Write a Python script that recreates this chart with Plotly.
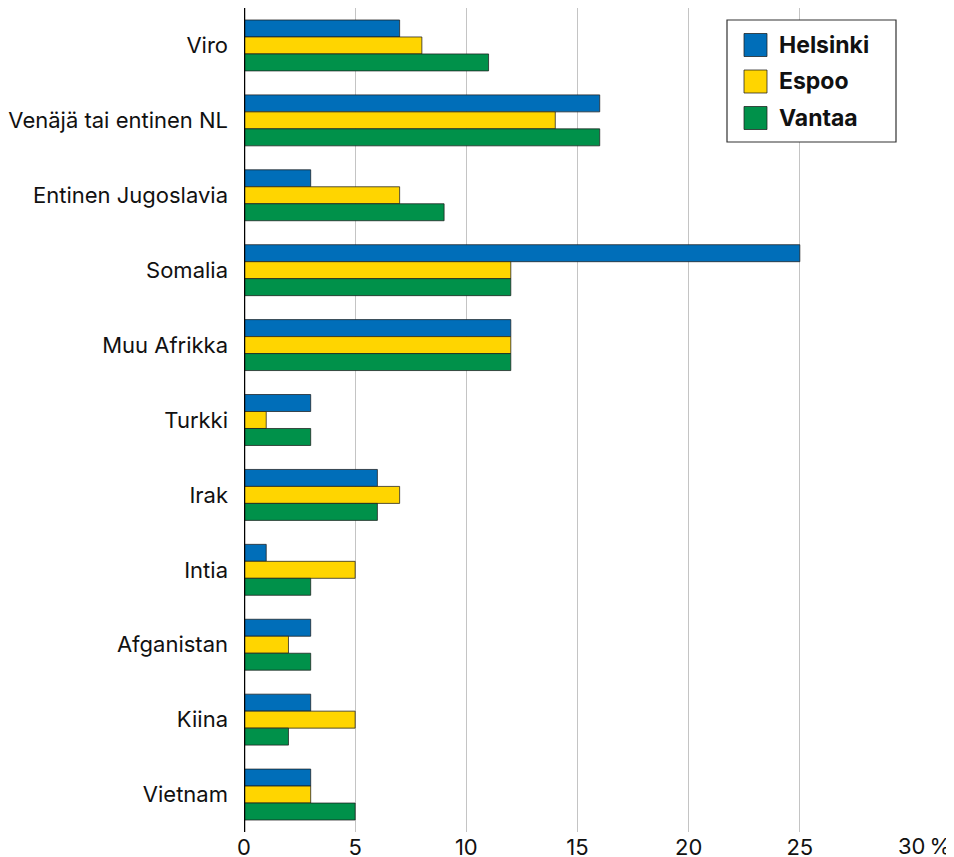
import plotly.graph_objects as go

categories = ["Viro", "Venäjä tai entinen NL", "Entinen Jugoslavia", "Somalia",
              "Muu Afrikka", "Turkki", "Irak", "Intia", "Afganistan", "Kiina", "Vietnam"]
helsinki = [7, 16, 3, 25, 12, 3, 6, 1, 3, 3, 3]
espoo = [8, 14, 7, 12, 12, 1, 7, 5, 2, 5, 3]
vantaa = [11, 16, 9, 12, 12, 3, 6, 3, 3, 2, 5]
series_names = ["Helsinki", "Espoo", "Vantaa"]
colors = ["#006EB9", "#FFD500", "#00914A"]
tick_vals = [0, 5, 10, 15, 20, 25, 30]

FONT = "Inter"
OFF = 8  # page body margin
W, H = 954 - OFF, 857 - OFF
L, R, T, B = 244 - OFF, 954 - 911, 0, 857 - 832
PW, PH = W - L - R, H - T - B


def px(x):
    return (x - OFF - L) / PW


def py(y):
    return 1 - (y - OFF - T) / PH


fig = go.Figure()
for name, vals, col in zip(series_names, [helsinki, espoo, vantaa], colors):
    fig.add_trace(go.Bar(y=categories, x=vals, name=name, orientation="h",
                         marker=dict(color=col, line=dict(color="rgba(30,30,30,0.75)", width=1)),
                         showlegend=False))

fig.update_layout(
    width=W, height=H,
    margin=dict(l=L, r=R, t=T, b=B, autoexpand=False),
    plot_bgcolor="white", paper_bgcolor="white",
    barmode="group", bargap=0.32, bargroupgap=0,
    font=dict(family=FONT, size=22, color="#111"),
    xaxis=dict(range=[0, 30], tickvals=tick_vals,
               ticktext=[str(v) if v != 30 else "" for v in tick_vals],
               showgrid=True, gridcolor="#c4c4c4", gridwidth=1,
               zeroline=False, showline=False, ticks="",
               tickfont=dict(size=22), ticklabelstandoff=0),
    yaxis=dict(autorange="reversed", showgrid=False, ticks="",
               showline=False, zeroline=False, ticklabelstandoff=15,
               tickfont=dict(size=22)),
)
# axis line at zero
fig.add_shape(type="line", xref="x", yref="paper", x0=0, x1=0, y0=0, y1=1,
              line=dict(color="black", width=2.5))
# last tick label with percent sign
fig.add_annotation(x=30, y=0, xref="x", yref="paper", text="30\u2009%", showarrow=False,
                   xanchor="left", yanchor="middle", xshift=-15, yshift=-14,
                   font=dict(size=22, family=FONT, color="#111"))

# custom legend
fig.add_shape(type="rect", xref="paper", yref="paper",
              x0=px(727), x1=px(896), y0=py(142), y1=py(20),
              line=dict(color="#333", width=1.2), fillcolor="white", layer="above")
for i, (name, col) in enumerate(zip(series_names, colors)):
    cy = 45 + i * 36.5
    fig.add_shape(type="rect", xref="paper", yref="paper",
                  x0=px(744), x1=px(767), y0=py(cy + 11.5), y1=py(cy - 11.5),
                  line=dict(color="rgba(30,30,30,0.75)", width=1), fillcolor=col, layer="above")
    fig.add_annotation(xref="paper", yref="paper", x=px(777),
                       y=py(cy), text="<b>" + name + "</b>", showarrow=False,
                       xanchor="left", yanchor="middle",
                       font=dict(size=23, family=FONT, color="#111"))

fig.write_html("out.html")
